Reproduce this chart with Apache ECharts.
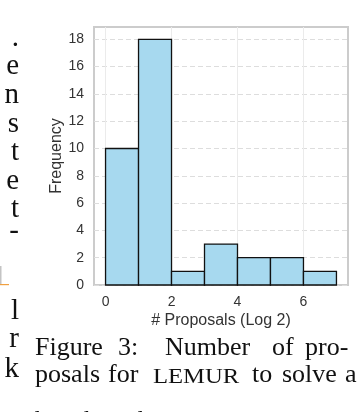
<!DOCTYPE html>
<html>
<head>
<meta charset="utf-8">
<script src="https://cdn.jsdelivr.net/npm/echarts@6/dist/echarts.min.js"></script>
<style>
  html, body { margin: 0; padding: 0; background: #fff; }
  #histChart { width: 364px; height: 412px; }
</style>
</head>
<body>
<div id="histChart"></div>
<script>
// 直方图数据 (log2 of proposals)
var binStart = [0, 1, 2, 3, 4, 5, 6];
var binEnd = [1, 2, 3, 4, 5, 6, 7];
var counts = [10, 18, 1, 3, 2, 2, 1];
var xTicks = [0, 2, 4, 6];
var yTicks = [0, 2, 4, 6, 8, 10, 12, 14, 16, 18];

var histData = [];
for (var i = 0; i < counts.length; i++) {
	histData.push([binStart[i], binEnd[i], counts[i]]);
}

// left column: line endings of the neighbouring paragraph
var sideText = ['.', 'e', 'n', 's', 't', 'e', 't', '-', 'l', 'r', 'k'];
var sideY = [53, 81, 110, 139, 167, 196, 224, 246, 326, 354, 384];

var serif = '"Liberation Serif", "DejaVu Serif", serif';
var sans = '"Liberation Sans", Arial, sans-serif';

var graphics = [];
sideText.forEach(function (t, k) {
	graphics.push({
		type: 'text',
		style: { text: t, x: 19, y: sideY[k], align: 'right', verticalAlign: 'bottom',
			font: '29px ' + serif, fill: '#111' }
	});
});
// the little link box
graphics.push({ type: 'rect', shape: { x: 0, y: 266, width: 1.5, height: 19 }, style: { fill: '#c4c4c4' } });
graphics.push({ type: 'rect', shape: { x: 0, y: 284, width: 9, height: 1.2 }, style: { fill: '#f0a040' } });

// caption, word by word (justified text)
var capWords = [
	['Figure', 35, 361], ['3:', 118, 361], ['Number', 165, 361], ['of', 272, 361], ['pro-', 305, 361],
	['posals', 35, 388], ['for', 108, 388], ['to', 252, 388], ['solve', 282, 388], ['a', 345, 388],
	['benchmark', 35, 434]
];
capWords.forEach(function (w) {
	graphics.push({
		type: 'text',
		style: { text: w[0], x: w[1], y: w[2], verticalAlign: 'bottom', font: '26px ' + serif, fill: '#111' }
	});
});
graphics.push({
	type: 'text', x: 153, y: 388, scaleX: 1.12,
	style: { text: 'LEMUR', x: 0, y: 0, verticalAlign: 'bottom', font: '22px ' + serif, fill: '#111' }
});

var myChart = echarts.init(document.getElementById('histChart'));

var option = {
	animation: false,
	backgroundColor: '#fff',
	grid: {
		left: 94, right: 16, top: 27, bottom: 127,
		show: true, borderColor: '#cccccc', borderWidth: 2, backgroundColor: '#fff'
	},
	xAxis: {
		type: 'value',
		min: -0.35, max: 7.35,
		name: '# Proposals (Log 2)',
		nameLocation: 'middle',
		nameGap: 28,
		nameMoveOverlap: false,
		nameTextStyle: { fontFamily: sans, fontSize: 16, color: '#333' },
		axisLine: { show: false },
		axisTick: { show: false, customValues: xTicks },
		axisLabel: { customValues: xTicks, margin: 10, fontFamily: sans, fontSize: 14, color: '#333' },
		splitLine: { show: true, lineStyle: { color: '#ebebeb', width: 1 } }
	},
	yAxis: {
		type: 'value',
		min: 0, max: 18.9,
		name: 'Frequency',
		nameLocation: 'middle',
		nameGap: 29,
		nameMoveOverlap: false,
		nameTextStyle: { fontFamily: sans, fontSize: 16, color: '#333' },
		axisLine: { show: false },
		axisTick: { show: false, customValues: yTicks },
		axisLabel: { customValues: yTicks, margin: 10, fontFamily: sans, fontSize: 14, color: '#333' },
		splitLine: { show: true, lineStyle: { color: '#dddddd', width: 1, type: [5, 3] } }
	},
	series: [{
		type: 'custom',
		data: histData,
		encode: { x: [0, 1], y: 2 },
		renderItem: function (params, api) {
			var p0 = api.coord([api.value(0), api.value(2)]);
			var p1 = api.coord([api.value(1), 0]);
			return {
				type: 'rect',
				shape: { x: p0[0], y: p0[1], width: p1[0] - p0[0], height: p1[1] - p0[1] },
				style: { fill: '#a7d9ef', stroke: '#111', lineWidth: 1.3 }
			};
		}
	}],
	graphic: graphics
};

myChart.setOption(option);
</script>
</body>
</html>
